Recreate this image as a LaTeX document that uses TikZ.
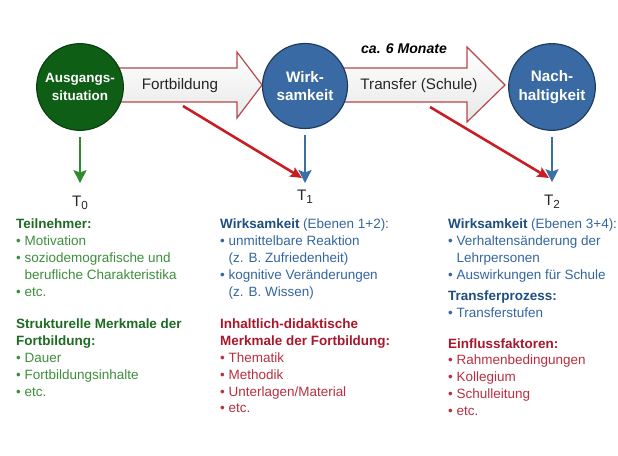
\documentclass[tikz,border=0pt]{standalone}
\usepackage{fontspec}
\setmainfont{Liberation Sans}
\usetikzlibrary{arrows.meta}

\definecolor{gruen}{HTML}{0E5E16}
\definecolor{gruenrand}{HTML}{0A3F0E}
\definecolor{gruenpfeil}{HTML}{2E8B2E}
\definecolor{gruentext}{HTML}{3E8E3E}
\definecolor{gruenkopf}{HTML}{1E6B24}
\definecolor{blau}{HTML}{3A6AA3}
\definecolor{blaurand}{HTML}{1F3B5E}
\definecolor{blaupfeil}{HTML}{3A6FA8}
\definecolor{blautext}{HTML}{3466A0}
\definecolor{blaukopf}{HTML}{1F4E80}
\definecolor{rot}{HTML}{C81E23}
\definecolor{rottext}{HTML}{B83040}
\definecolor{rotkopf}{HTML}{A8182C}
\definecolor{pfeilrand}{HTML}{B4474A}

\tikzset{
	phase/.style={circle, draw, line width=1pt, minimum size=2.6cm, inner sep=0pt, text=white, align=center, font=\bfseries\fontsize{13}{16}\selectfont},
	blockpfeil/.style={draw=pfeilrand, line width=1pt, top color=white, bottom color=black!9},
	pfeiltext/.style={font=\fontsize{13}{15}\selectfont, text=black!85},
	zeit/.style={font=\fontsize{13}{15}\selectfont, text=black!85, inner sep=1pt},
	liste/.style={anchor=north west, align=left, inner sep=0pt, font=\fontsize{11.5}{14.3}\selectfont},
	vpfeil/.style={line width=2.4pt, -{Stealth[length=11pt,width=11pt,inset=2pt]}},
	rpfeil/.style={draw=rot, line width=2.2pt, -{Stealth[length=10pt,width=9pt,inset=2pt]}}
}

\begin{document}
\begin{tikzpicture}[x=0.03cm,y=-0.03cm]
			\fill[white] (0,0) rectangle (618,456);
			\useasboundingbox (0,0) rectangle (618,456);
			% Blockpfeile
			\draw [blockpfeil] (110,68) -- (237,68) -- (237,52) -- (262,85) -- (237,118) -- (237,102) -- (110,102) -- cycle;
			\draw [blockpfeil] (330,68) -- (467,68) -- (467,47) -- (505,85) -- (467,122) -- (467,102) -- (330,102) -- cycle;
			\node[pfeiltext] (fort) at (180,86) {Fortbildung};
			\node[pfeiltext] (trans) at (419,86) {Transfer (Schule)};
			\node[font=\bfseries\itshape\fontsize{12}{14}\selectfont] (dauer) at (404,49) {ca. 6 Monate};
			\coordinate (fort-out) at (183,106);
			\coordinate (trans-out) at (430,107);
			\coordinate (t1-in) at (302,178);
			\coordinate (t2-in) at (549,178);
			\draw [rpfeil] (fort-out) -- (t1-in);
			\draw [rpfeil] (trans-out) -- (t2-in);
			% Kreise
			\node[phase, fill=gruen, draw=gruenrand, font=\bfseries\fontsize{11.5}{15}\selectfont] (situ) at (80,87) {Ausgangs-\\situation};
			\node[phase, fill=blau, draw=blaurand, minimum size=2.55cm] (wirk) at (305,86) {Wirk-\\samkeit};
			\node[phase, fill=blau, draw=blaurand] (nach) at (552,87) {Nach-\\haltigkeit};
			\node[zeit] (t0) at (80,203) {T\raisebox{-2.5pt}{\fontsize{10}{12}\selectfont 0}};
			\node[zeit] (t1) at (305,197) {T\raisebox{-2.5pt}{\fontsize{10}{12}\selectfont 1}};
			\node[zeit] (t2) at (552,202) {T\raisebox{-2.5pt}{\fontsize{10}{12}\selectfont 2}};
			\draw [vpfeil, draw=gruenpfeil, shorten <=5pt, shorten >=10pt] (situ.south) -- (t0.north);
			\draw [vpfeil, draw=blaupfeil, shorten <=5pt, shorten >=5pt] (wirk.south) -- (t1.north);
			\draw [vpfeil, draw=blaupfeil, shorten <=5pt, shorten >=10pt] (nach.south) -- (t2.north);
			% Listen
			\node[liste, text=gruentext] (teil) at (16,219) {\textbf{\color{gruenkopf}Teilnehmer:}\\ \textbullet\ Motivation\\ \textbullet\ soziodemografische und\\ \phantom{\textbullet\ }berufliche Charakteristika\\ \textbullet\ etc.};
			\node[liste, text=gruentext] (struk) at (16,319) {\textbf{\color{gruenkopf}Strukturelle Merkmale der}\\ \textbf{\color{gruenkopf}Fortbildung:}\\ \textbullet\ Dauer\\ \textbullet\ Fortbildungsinhalte\\ \textbullet\ etc.};
			\node[liste, text=blautext] (wirk12) at (220,219) {\textbf{\color{blaukopf}Wirksamkeit} (Ebenen 1+2):\\ \textbullet\ unmittelbare Reaktion\\ \phantom{\textbullet\ }(z. B. Zufriedenheit)\\ \textbullet\ kognitive Veränderungen\\ \phantom{\textbullet\ }(z. B. Wissen)};
			\node[liste, text=rottext] (inhalt) at (220,319) {\textbf{\color{rotkopf}Inhaltlich-didaktische}\\ \textbf{\color{rotkopf}Merkmale der Fortbildung:}\\ \textbullet\ Thematik\\ \textbullet\ Methodik\\ \textbullet\ Unterlagen/Material\\ \textbullet\ etc.};
			\node[liste, text=blautext] (wirk34) at (448,219) {\textbf{\color{blaukopf}Wirksamkeit} (Ebenen 3+4):\\ \textbullet\ Verhaltensänderung der\\ \phantom{\textbullet\ }Lehrpersonen\\ \textbullet\ Auswirkungen für Schule};
			\node[liste, text=blautext] (prozess) at (448,291) {\textbf{\color{blaukopf}Transferprozess:}\\ \textbullet\ Transferstufen};
			\node[liste, text=rottext] (einfluss) at (448,338) {\textbf{\color{rotkopf}Einflussfaktoren:}\\ \textbullet\ Rahmenbedingungen\\ \textbullet\ Kollegium\\ \textbullet\ Schulleitung\\ \textbullet\ etc.};
		\end{tikzpicture}
\end{document}
